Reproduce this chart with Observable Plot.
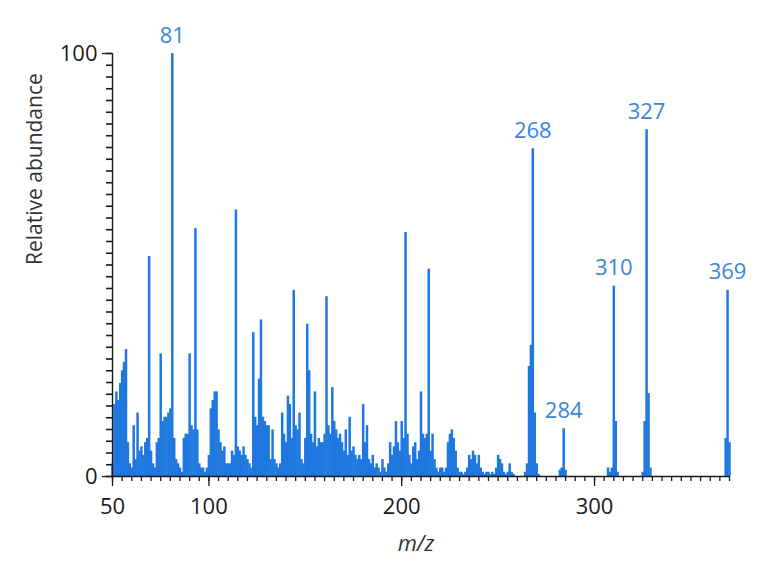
<!DOCTYPE html>
<html>
<head>
<meta charset="utf-8">
<script src="https://cdn.jsdelivr.net/npm/d3@7"></script>
<script src="https://cdn.jsdelivr.net/npm/@observablehq/plot@0.6"></script>
<style>
  html, body { margin: 0; padding: 0; background: #fff; }
  #chart svg { display: block; }
</style>
</head>
<body>
<div id="chart"></div>
<script>
// m/z values (integer masses) and relative abundances
const mzValues = [
  50,51,52,53,54,55,56,57,58,59,60,61,62,63,64,65,66,67,68,69,
  70,71,72,73,74,75,76,77,78,79,80,81,82,83,84,85,86,87,88,89,
  90,91,92,93,94,95,96,97,98,99,100,101,102,103,104,105,106,107,108,109,
  110,111,112,113,114,115,116,117,118,119,120,121,122,123,124,125,126,127,128,129,
  130,131,132,133,134,135,136,137,138,139,140,141,142,143,144,145,146,147,148,149,
  150,151,152,153,154,155,156,157,158,159,160,161,162,163,164,165,166,167,168,169,
  170,171,172,173,174,175,176,177,178,179,180,181,182,183,184,185,186,187,188,189,
  190,191,192,193,194,195,196,197,198,199,200,201,202,203,204,205,206,207,208,209,
  210,211,212,213,214,215,216,217,218,219,220,221,222,223,224,225,226,227,228,229,
  230,231,232,233,234,235,236,237,238,239,240,241,242,243,244,245,246,247,248,249,
  250,251,252,253,254,255,256,257,258,
  264,265,266,267,268,269,270,271,
  282,283,284,285,
  307,308,309,310,311,312,
  325,326,327,328,329,
  368,369,370
];
const abundance = [
  3,17,20,18,22,25,27,30,8,3,2,12,4,15,6,7,5,8,9,52,
  6,3,2,8,9,29,13,14,14,15,16,100,9,4,3,2,1,9,10,10,
  29,12,11,58.6,11,3,2,2,1,2,5,16,18,20,20,11,8,6,7,3,
  3,3,6,5,63,7,6,5,7,5,4,3,2,34,14,12,23,37,14,13,
  12,12,4,11,4,3,2,3,15,10,8,19,17,9,44,12,11,15,4,3,
  9,36,25,10,8,20,7,9,8,8,10,42.5,12,10,21,13,11,9,10,8,
  6,11,5,14,6,7,5,4,5,4,17,8,12,4,3,5,2,3,2,1,
  4,2,1,3,8,5,7,13,8,6,13,9,57.7,10,5,3,7,8,4,6,
  20,10,9,10,49,6,10,4,2,1,2,2,1,2,8,10,11,9,6,2,
  1,1,0.5,1,2,5,4,6,5,3,5,2,1,0.5,1,1,0.5,1,0.5,2,
  5,4,3,1,0.5,1,3,1,0.5,
  1,3,26,31,77.5,15,3,0.5,
  1.5,2,11.3,1.5,
  2,1,2,45,13,1,
  1,13,82,19.6,2,
  9,44,8
];
const labeledPeaks = [81, 268, 284, 310, 327, 369];
const xTickValues = [50, 100, 200, 300];
const xMinorTicks = d3.range(50, 371, 5);
const yTickValues = [0, 100];
const yMinorTicks = d3.range(0, 100.01, 100 / 36);

const spectrum = mzValues.map((m, i) => ({mz: m, ab: abundance[i]}));
const peakLabels = labeledPeaks.map(m => ({mz: m, ab: abundance[mzValues.indexOf(m)], text: String(m)}));

const barColor = "#1f78e0";
const labelColor = "#3a85d8";
const inkColor = "#1a1a1a";
const font = "'Open Sans', 'Noto Sans', sans-serif";

const chart = Plot.plot({
  width: 768,
  height: 582,
  marginLeft: 112,
  marginRight: 39,
  marginTop: 53,
  marginBottom: 106,
  style: {fontFamily: font, fontSize: "21px", color: inkColor, background: "#fff"},
  x: {domain: [50, 370]},
  y: {domain: [0, 100]},
  marks: [
    Plot.ruleX(spectrum, {x: "mz", y1: 0, y2: "ab", stroke: barColor, strokeWidth: 2.5}),
    // minor ticks
    Plot.axisX({ticks: xMinorTicks, tickSize: 5, tickFormat: () => "", stroke: inkColor, strokeWidth: 1.3, label: null}),
    Plot.ruleY(yMinorTicks, {y: d => d, x1: 50, x2: 50, insetLeft: -6, stroke: inkColor, strokeWidth: 1.6}),
    // major ticks with labels
    Plot.axisX({ticks: xTickValues, tickSize: 10, tickPadding: 12, stroke: inkColor, strokeWidth: 1.3, fill: inkColor, fontSize: 22, label: null}),
    Plot.axisY({ticks: yTickValues, tickSize: 10, tickPadding: 5, stroke: inkColor, strokeWidth: 1.3, fill: inkColor, fontSize: 22, label: null}),
    // axis lines
    Plot.ruleY([0], {stroke: inkColor, strokeWidth: 1.4}),
    Plot.ruleX([50], {stroke: inkColor, strokeWidth: 1.4}),
    // peak labels
    Plot.text(peakLabels, {x: "mz", y: "ab", text: "text", dy: -18, fill: labelColor, fontSize: 22, textAnchor: "middle"}),
    // axis titles
    Plot.text(["Relative abundance"], {frameAnchor: "left", dx: -77, rotate: -90, fill: "#333", fontSize: 21}),
    Plot.text(["m/z"], {frameAnchor: "bottom", dy: 74, dx: -5, fill: "#333", fontSize: 22, fontStyle: "italic"})
  ]
});
document.getElementById("chart").appendChild(chart);
</script>
</body>
</html>
